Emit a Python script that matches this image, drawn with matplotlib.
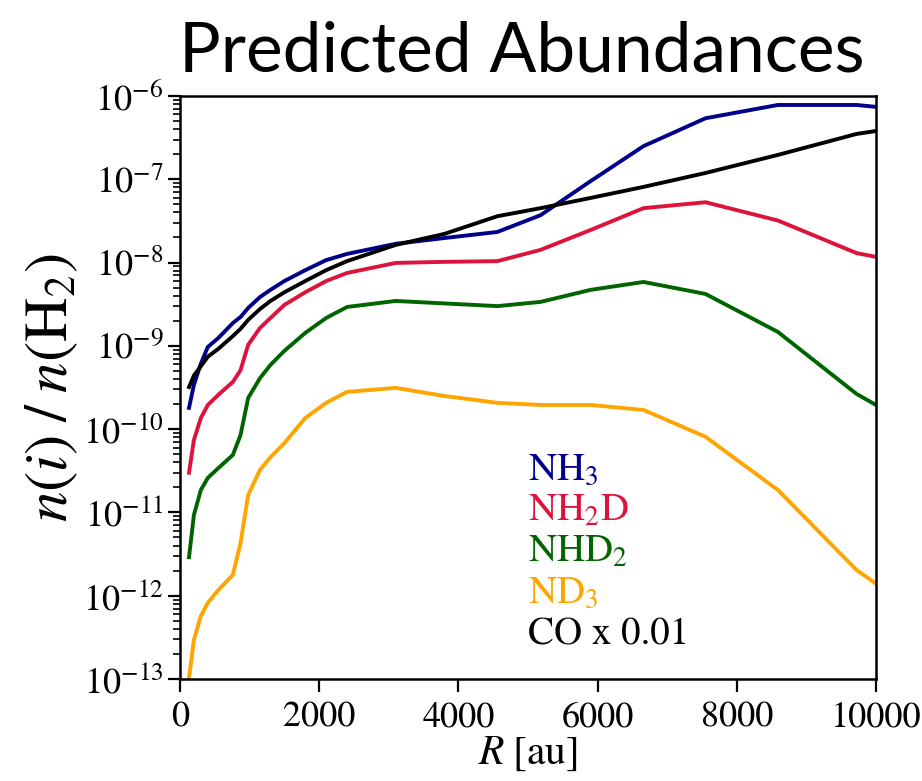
import matplotlib
matplotlib.use("Agg")
import matplotlib.pyplot as plt
import numpy as np
from matplotlib.ticker import FixedLocator, NullFormatter

plt.rcParams["mathtext.fontset"] = "stix"
plt.rcParams["font.family"] = ["STIXGeneral", "DejaVu Serif"]

# Radial grid (au)
radius = [130, 200, 300, 400, 550, 760, 870, 980, 1150, 1300, 1500, 1800,
          2100, 2400, 3100, 3800, 4560, 5180, 5900, 6660, 7550, 8590, 9720, 10000]

# Abundances relative to H2
nh3 = [1.8e-10, 3.4e-10, 6.1e-10, 9.7e-10, 1.24e-09, 1.88e-09, 2.22e-09, 2.85e-09,
       3.86e-09, 4.7e-09, 6.0e-09, 8.1e-09, 1.07e-08, 1.27e-08, 1.68e-08, 1.97e-08,
       2.33e-08, 3.7e-08, 9.5e-08, 2.5e-07, 5.4e-07, 7.8e-07, 7.8e-07, 7.4e-07]
nh2d = [3.0e-11, 7.4e-11, 1.36e-10, 1.95e-10, 2.58e-10, 3.69e-10, 5.1e-10, 1.03e-09,
        1.64e-09, 2.16e-09, 3.1e-09, 4.4e-09, 6.0e-09, 7.5e-09, 9.9e-09, 1.02e-08,
        1.04e-08, 1.42e-08, 2.46e-08, 4.5e-08, 5.3e-08, 3.2e-08, 1.3e-08, 1.17e-08]
nhd2 = [2.9e-12, 9.3e-12, 1.86e-11, 2.6e-11, 3.4e-11, 4.9e-11, 8.5e-11, 2.37e-10,
        4.1e-10, 5.9e-10, 8.7e-10, 1.43e-09, 2.16e-09, 2.93e-09, 3.46e-09, 3.23e-09,
        3.0e-09, 3.37e-09, 4.7e-09, 5.85e-09, 4.2e-09, 1.47e-09, 2.65e-10, 1.95e-10]
nd3 = [1.03e-13, 2.94e-13, 5.7e-13, 8.2e-13, 1.17e-12, 1.78e-12, 4.3e-12, 1.62e-11,
       3.24e-11, 4.6e-11, 6.8e-11, 1.36e-10, 2.07e-10, 2.8e-10, 3.13e-10, 2.5e-10,
       2.07e-10, 1.95e-10, 1.95e-10, 1.7e-10, 8.1e-11, 1.86e-11, 2.04e-12, 1.39e-12]
co_scaled = [3.2e-10, 4.4e-10, 5.7e-10, 7.4e-10, 9.2e-10, 1.31e-09, 1.6e-09, 2.05e-09,
             2.77e-09, 3.46e-09, 4.4e-09, 6.0e-09, 8.1e-09, 1.04e-08, 1.63e-08, 2.21e-08,
             3.6e-08, 4.5e-08, 5.97e-08, 8.1e-08, 1.19e-07, 1.96e-07, 3.5e-07, 3.8e-07]

species = ["NH$_3$", "NH$_2$D", "NHD$_2$", "ND$_3$", "CO x 0.01"]
series = [nh3, nh2d, nhd2, nd3, co_scaled]
colors = ["#00008B", "#DC143C", "#006400", "#FFA500", "#000000"]

x_ticks = [0, 2000, 4000, 6000, 8000, 10000]
decades = list(range(-13, -5))

fig = plt.figure(figsize=(9.22, 7.81), dpi=100)
ax = fig.add_axes([0.1952, 0.1306, 0.7549, 0.7465])

for vals, col in zip(series, colors):
    ax.plot(radius, vals, color=col, lw=2.8, solid_joinstyle="round")

ax.set_yscale("log")
ax.set_xlim(0, 10000)
ax.set_ylim(1e-13, 1e-6)
ax.set_xticks(x_ticks)
ax.set_yticks([10.0 ** d for d in decades])
ax.set_yticklabels([rf"$10^{{{d}}}$" for d in decades])
minor = [m * 10.0 ** d for d in decades[:-1] for m in range(2, 10)]
ax.yaxis.set_minor_locator(FixedLocator(minor))
ax.yaxis.set_minor_formatter(NullFormatter())

ax.tick_params(axis="both", which="major", direction="out", length=9, width=1.6,
               labelsize=26)
ax.tick_params(axis="x", which="major", pad=7)
ax.tick_params(axis="y", which="major", pad=3)
ax.tick_params(axis="y", which="minor", direction="out", length=5, width=1.2)
for s in ax.spines.values():
    s.set_linewidth(1.8)

ax.set_xlabel(r"$R\;[\mathrm{au}]$", fontsize=30, labelpad=0)
ax.set_ylabel(r"$n(i)\;/\;n(\mathrm{H_2})$", fontsize=44, labelpad=2)

# species labels, coloured like their curves
for i, (name, col) in enumerate(zip(species, colors)):
    ax.text(0.5, 0.341 - i * 0.0703, name, color=col, fontsize=28,
            transform=ax.transAxes, ha="left", va="baseline")

fig.text(0.566, 0.908, "Predicted Abundances", fontsize=50, family="Lato",
         ha="center", va="baseline")

fig.savefig("out.png", dpi=100)
